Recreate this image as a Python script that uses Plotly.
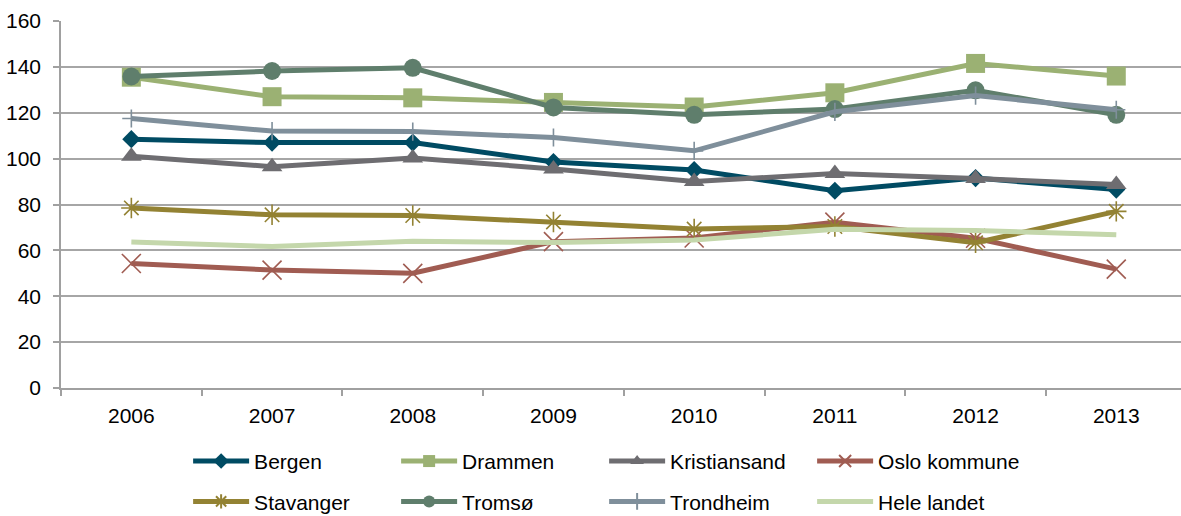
import plotly.graph_objects as go

years = ["2006", "2007", "2008", "2009", "2010", "2011", "2012", "2013"]

bergen = [108.5, 107.0, 107.0, 98.5, 95.0, 86.0, 91.5, 86.5]
drammen = [135.5, 127.0, 126.5, 124.5, 122.5, 128.7, 141.5, 136.0]
kristiansand = [101.0, 96.5, 100.3, 95.5, 90.0, 93.5, 91.3, 88.7]
oslo = [54.3, 51.4, 50.0, 63.8, 65.4, 72.3, 65.3, 51.8]
stavanger = [78.5, 75.5, 75.2, 72.4, 69.3, 70.4, 63.3, 77.0]
tromso = [135.8, 138.2, 139.6, 122.3, 119.1, 121.6, 129.8, 119.1]
trondheim = [117.5, 112.0, 111.8, 109.2, 103.4, 120.4, 127.5, 121.3]
hele_landet = [63.6, 61.7, 64.0, 63.4, 64.5, 69.2, 68.7, 66.8]

# name, values, colour, symbol, size, marker line width, legend row
series = [
    ("Bergen", bergen, "#004B63", "diamond", 14, None, "legend"),
    ("Drammen", drammen, "#9BB173", "square", 19, None, "legend"),
    ("Kristiansand", kristiansand, "#6E6D71", "triangle-up", 18, None, "legend"),
    ("Oslo kommune", oslo, "#A05C52", "x-thin", 19, 1.6, "legend"),
    ("Stavanger", stavanger, "#938233", "asterisk", 17, 1.6, "legend2"),
    ("Tromsø", tromso, "#5F7E6C", "circle", 18, None, "legend2"),
    ("Trondheim", trondheim, "#7F8F9B", "cross-thin", 13, 1.6, "legend2"),
    ("Hele landet", hele_landet, "#C4D7AB", None, 0, None, "legend2"),
]

fig = go.Figure()
for name, vals, color, sym, size, lw, leg in series:
    if sym is None:
        fig.add_trace(go.Scatter(x=years, y=vals, name=name, mode="lines",
                                 line=dict(color=color, width=5), legend=leg))
    else:
        marker = dict(symbol=sym, size=size, color=color)
        if lw is not None:
            marker["line"] = dict(color=color, width=lw)
        fig.add_trace(go.Scatter(x=years, y=vals, name=name, mode="lines+markers",
                                 line=dict(color=color, width=5), marker=marker,
                                 legend=leg))

leg_common = dict(orientation="h", xanchor="left", yanchor="middle",
                  entrywidth=137, entrywidthmode="pixels", itemwidth=56,
                  itemsizing="constant", font=dict(size=21),
                  bgcolor="rgba(0,0,0,0)")

fig.update_layout(
    width=1181, height=516,
    paper_bgcolor="white", plot_bgcolor="white",
    margin=dict(l=61, r=0, t=21, b=128, autoexpand=False),
    font=dict(family="Liberation Sans, Arial, sans-serif", size=21, color="black"),
    xaxis=dict(type="category", range=[-0.5, 7.46], showgrid=False,
               showline=True, linecolor="#A0A0A0", linewidth=1.5,
               ticks="outside", tickson="boundaries", ticklen=6,
               tickcolor="#A0A0A0", tickwidth=1.5, tickfont=dict(size=21),
               ticklabelstandoff=8),
    yaxis=dict(range=[0, 160], dtick=20, showgrid=True, gridcolor="#A6A6A6",
               gridwidth=1.5, showline=True, linecolor="#A0A0A0", linewidth=1.5,
               ticks="outside", ticklen=6, tickcolor="#A0A0A0", tickwidth=1.5,
               zeroline=False, tickfont=dict(size=21), ticklabelstandoff=8),
    legend=dict(x=0.1135, y=-0.2, **leg_common),
    legend2=dict(x=0.1135, y=-0.31, **leg_common),
    showlegend=True,
)

fig.write_html(
    "out.html",
    config={"displayModeBar": False},
    post_script="document.body.style.margin='0';document.body.style.overflow='hidden';",
)
